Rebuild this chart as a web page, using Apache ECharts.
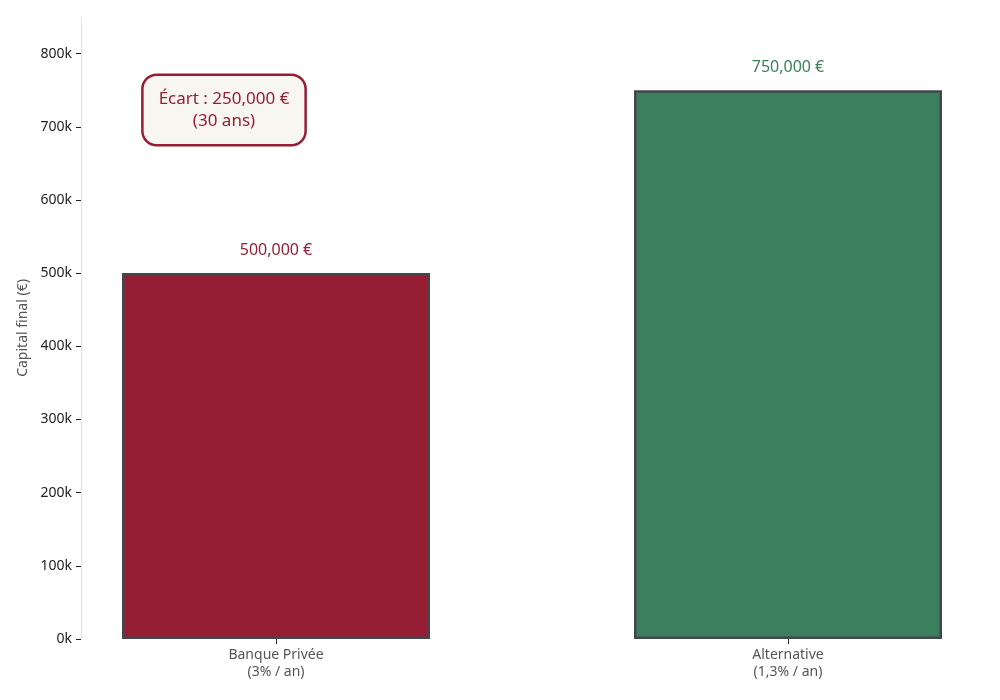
<!DOCTYPE html>
<html>
<head>
<meta charset="utf-8">
<script src="https://cdn.jsdelivr.net/npm/echarts@6/dist/echarts.min.js"></script>
<style>
  html, body { margin: 0; padding: 0; background: #fff; }
  #chart { width: 1000px; height: 700px; }
</style>
</head>
<body>
<div id="chart"></div>
<script>
// données du graphique
var categories = ['Banque Privée\n(3% / an)', 'Alternative\n(1,3% / an)']
var capitalFinal = [500000, 750000]
var barColors = ['#961e34', '#3a805c']
var yTicks = { min: 0, max: 850000, interval: 100000 }
var annotation = 'Écart : 250,000 €\n(30 ans)'

var FONT = '"Noto Sans", Lato, sans-serif'
var myChart = echarts.init(document.getElementById('chart'))

function euro (v) {
  return v.toLocaleString('en-US') + ' €'
}

myChart.setOption({
  animation: false,
  textStyle: { fontFamily: FONT },
  // grille 0 : les barres, une catégorie sur chaque bord (boundaryGap false)
  // grille 1 : l'axe y visible
  grid: [
    { left: 276, right: 212, top: 17, bottom: 61, outerBoundsMode: 'none' },
    { left: 81, right: 18, top: 17, bottom: 61, outerBoundsMode: 'none' }
  ],
  xAxis: [
    {
      type: 'category',
      gridIndex: 0,
      data: categories,
      boundaryGap: false,
      axisLine: { show: false },
      axisTick: { show: true, length: 5, lineStyle: { color: '#222' } },
      axisLabel: { color: '#555', fontSize: 14, lineHeight: 17, margin: 8, fontFamily: FONT }
    },
    { type: 'value', gridIndex: 1, show: false }
  ],
  yAxis: [
    { type: 'value', gridIndex: 0, show: false, min: yTicks.min, max: yTicks.max, interval: yTicks.interval },
    {
      type: 'value',
      gridIndex: 1,
      min: yTicks.min,
      max: yTicks.max,
      interval: yTicks.interval,
      name: 'Capital final (€)',
      nameLocation: 'middle',
      nameGap: 49,
      nameTextStyle: { color: '#555', fontSize: 14, fontFamily: FONT },
      axisLine: { show: true, onZero: false, lineStyle: { color: '#e3e3e3', width: 1 } },
      axisTick: { show: true, length: 5, lineStyle: { color: '#222' } },
      axisLabel: {
        color: '#222', fontSize: 14, margin: 9, fontFamily: FONT,
        formatter: function (v) { return (v / 1000) + 'k' },
        showMaxLabel: false
      },
      splitLine: { show: false }
    }
  ],
  series: [
    {
      type: 'bar',
      xAxisIndex: 0,
      yAxisIndex: 0,
      barWidth: 308,
      clip: false,
      data: capitalFinal.map(function (v, i) {
        return {
          value: v,
          itemStyle: { color: barColors[i], borderColor: '#43464d', borderWidth: 2.5 },
          label: { color: barColors[i] }
        }
      }),
      label: {
        show: true,
        position: 'top',
        distance: 15,
        fontSize: 16,
        fontFamily: FONT,
        formatter: function (p) { return euro(p.value) }
      }
    }
  ],
  graphic: [
    {
      type: 'text',
      x: 224,
      y: 110,
      z: 10,
      style: {
        text: annotation,
        fill: '#961e34',
        font: '17px ' + FONT,
        align: 'center',
        verticalAlign: 'middle',
        lineHeight: 22,
        backgroundColor: '#f8f6f0',
        borderColor: '#961e34',
        borderWidth: 2.5,
        borderRadius: 13,
        padding: [12, 15, 12, 15]
      }
    }
  ]
})
</script>
</body>
</html>
